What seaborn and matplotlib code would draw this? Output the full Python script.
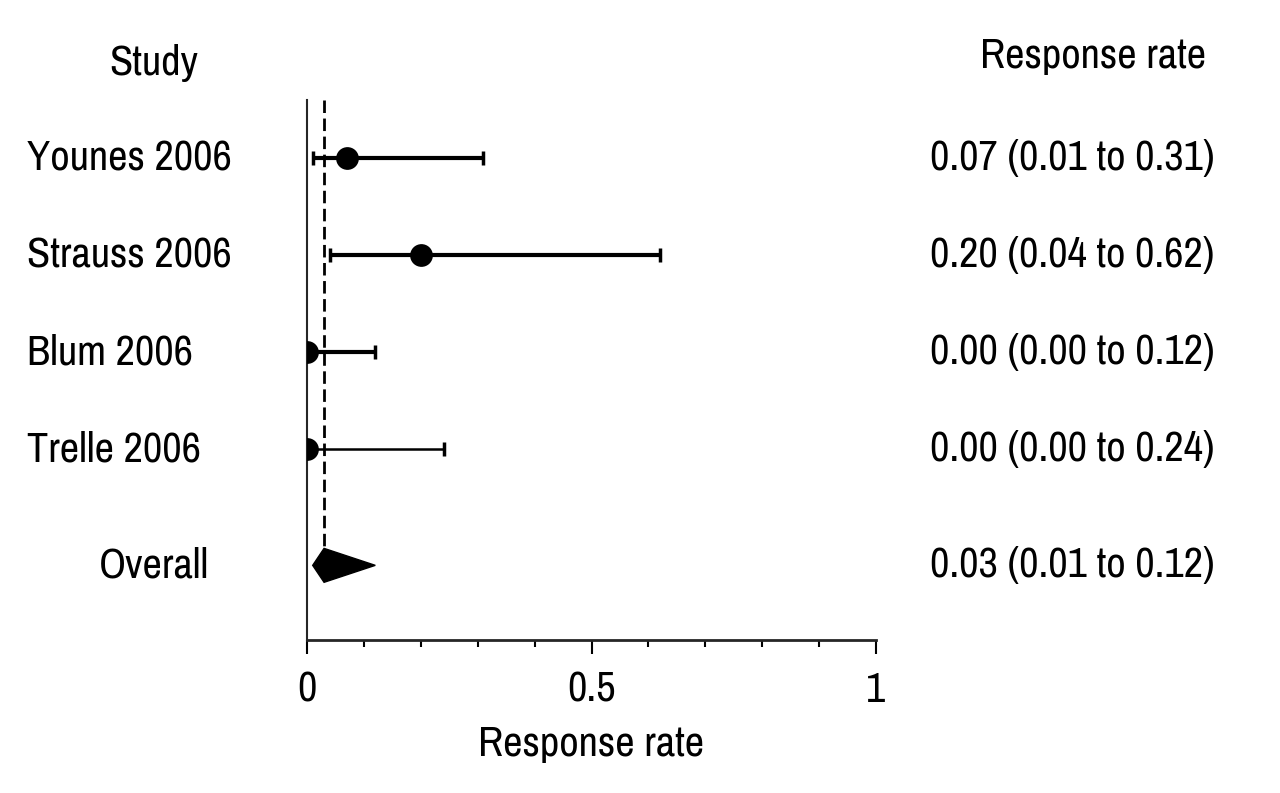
import numpy as np
import pandas as pd
import matplotlib
matplotlib.use("Agg")
import matplotlib.pyplot as plt
import matplotlib.transforms as mtransforms
from matplotlib import font_manager
import seaborn as sns

studies = ["Younes 2006", "Strauss 2006", "Blum 2006", "Trelle 2006"]
rate = [0.07, 0.20, 0.00, 0.00]
lower = [0.01, 0.04, 0.00, 0.00]
upper = [0.31, 0.62, 0.12, 0.24]
labels = ["0.07 (0.01 to 0.31)", "0.20 (0.04 to 0.62)",
          "0.00 (0.00 to 0.12)", "0.00 (0.00 to 0.24)"]
overall_rate = 0.03
overall_lower = 0.01
overall_upper = 0.12
overall_label = "0.03 (0.01 to 0.12)"

rows = [0, 1, 2, 3]
overall_row = 4.2
line_w = [3.0, 3.0, 3.0, 1.8]

sns.set_style("ticks")

# look for a narrow/condensed sans face, like the original's typeface
font_file = None
for f in font_manager.fontManager.ttflist:
    if ("Narrow" in f.name or "Condensed" in f.name) and f.style == "normal" \
            and f.weight in (400, "normal"):
        font_file = f.fname
        break
if font_file is None:
    for f in font_manager.fontManager.ttflist:
        if f.name == "DejaVu Sans" and f.stretch == "condensed" \
                and f.style == "normal" and f.weight in (400, "normal"):
            font_file = f.fname
            break

plt.rcParams['font.family'] = ['DejaVu Sans']
plt.rcParams['text.color'] = 'black'
plt.rcParams['xtick.color'] = 'black'
plt.rcParams['axes.labelcolor'] = 'black'
fs = 30.5
if font_file:
    fp = font_manager.FontProperties(fname=font_file, size=fs)
else:
    fp = font_manager.FontProperties(family="DejaVu Sans", size=24)

df = pd.DataFrame({"study": studies, "rate": rate, "row": rows})

fig = plt.figure(figsize=(12.8, 7.93), dpi=100)
ax = fig.add_axes([307 / 1280, 1 - 640 / 793, 569 / 1280, 540 / 793])

# confidence intervals
for r, lo, hi, lw in zip(rows, lower, upper, line_w):
    ax.hlines(r, lo, hi, color="black", lw=lw, zorder=2)
    ax.vlines([lo, hi], r - 0.07, r + 0.07, color="black", lw=2.5, zorder=2)

sns.scatterplot(data=df, x="rate", y="row", s=230, color="black",
                edgecolor="black", ax=ax, zorder=3, legend=False)

# overall diamond
h = 0.175
ax.fill([overall_lower, overall_rate, overall_upper, overall_rate],
        [overall_row, overall_row - h, overall_row, overall_row + h],
        color="black", zorder=3)

# dashed line at overall estimate
ax.vlines(overall_rate, -0.6, overall_row - h, color="black", lw=2,
          linestyles=(0, (4.5, 2)), zorder=1)

ax.set_xlim(0, 1)
ax.set_ylim(4.97, -0.6)
ax.set_yticks([])
ax.set_xticks([0, 0.5, 1])
ax.set_xticklabels(["0", "0.5", "1"], fontproperties=fp)
ax.set_xticks(np.arange(0.1, 1.0, 0.1), minor=True)
ax.tick_params(axis="x", which="major", length=10, width=1.5, pad=12)
ax.tick_params(axis="x", which="minor", length=5, width=1.5)
ax.set_xlabel("Response rate", fontproperties=fp, labelpad=12)
ax.set_ylabel("")
sns.despine(ax=ax, top=True, right=True)
ax.spines["left"].set_linewidth(1.5)
ax.spines["bottom"].set_linewidth(2)

# text columns
tr = mtransforms.blended_transform_factory(fig.transFigure, ax.transData)
for r, name, lab in zip(rows, studies, labels):
    ax.text(27 / 1280, r, name, transform=tr, fontproperties=fp,
            ha="left", va="center")
    ax.text(930 / 1280, r, lab, transform=tr, fontproperties=fp,
            ha="left", va="center")
ax.text(154 / 1280, overall_row, "Overall", transform=tr, fontproperties=fp,
        ha="center", va="center")
ax.text(930 / 1280, overall_row, overall_label, transform=tr,
        fontproperties=fp, ha="left", va="center")

fig.text(154 / 1280, 1 - 63 / 793, "Study", fontproperties=fp,
         ha="center", va="center")
fig.text(1093 / 1280, 1 - 56 / 793, "Response rate", fontproperties=fp,
         ha="center", va="center")

fig.savefig("out.png", dpi=100, facecolor="white")
